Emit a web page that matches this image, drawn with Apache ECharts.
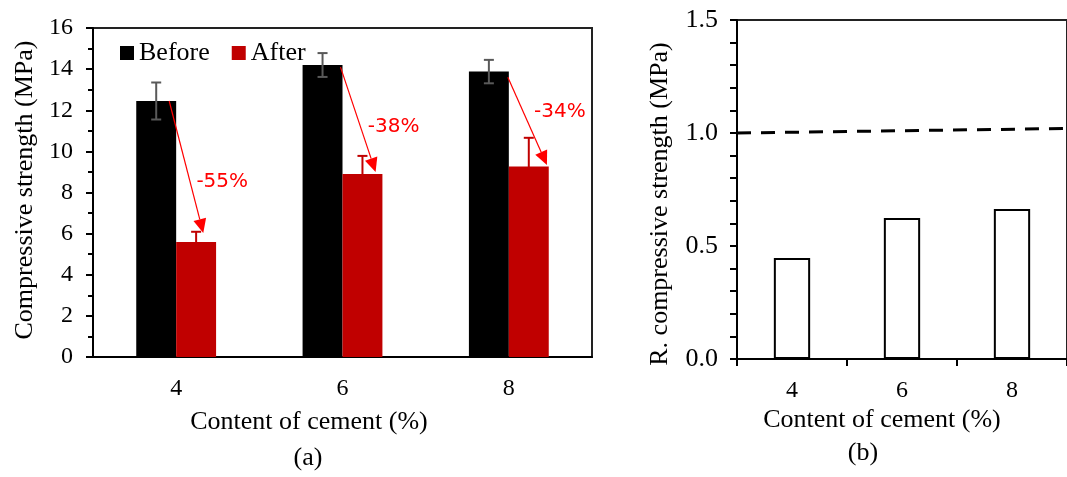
<!DOCTYPE html>
<html>
<head>
<meta charset="utf-8">
<script src="https://cdn.jsdelivr.net/npm/echarts@6/dist/echarts.min.js"></script>
<style>
html,body{margin:0;padding:0;background:#fff;}
#chart{width:1067px;height:477px;}
</style>
</head>
<body>
<div id="chart"></div>
<script>
// ---- data ----
const categories = ['4', '6', '8'];
const beforeVals = [12.45, 14.2, 13.88];
const afterVals = [5.59, 8.9, 9.26];
const beforeErr = [0.9, 0.58, 0.57];
const afterErr = [0.5, 0.88, 1.4];
const reductionLabels = ['-55%', '-38%', '-34%'];
const arrowFromVals = [12.45, 14.1, 13.6];
const arrowToVals = [6.03, 9.0, 9.34];
const ratioVals = [0.447, 0.624, 0.664];
const refLineVals = [1.0, 1.02];
const yTicksA = [0, 16, 2];
const yTicksB = [0, 1.5, 0.5];

// ---- styles ----
const SERIF = '"Liberation Serif", "Times New Roman", serif';
const SANS = '"DejaVu Sans", Verdana, sans-serif';
const BAR_FRAC = 0.24;
const annot = [
  { fromDx: -0.042, toDx: 0.163, labelDx: 0.277, labelV: 8.51 },
  { fromDx: -0.012, toDx: 0.199, labelDx: 0.307, labelV: 11.19 },
  { fromDx: -0.006, toDx: 0.229, labelDx: 0.307, labelV: 11.92 }
];

const chart = echarts.init(document.getElementById('chart'), null, { renderer: 'canvas' });

function errRender(sign, color) {
  return function (params, api) {
    const i = api.value(0), v = api.value(1), e = api.value(2);
    const bw = api.size([1, 0])[0];
    const x = api.coord([i, v])[0] + sign * bw * BAR_FRAC / 2;
    const yt = api.coord([i, v + e])[1];
    const yb = api.coord([i, v - e])[1];
    const cap = 5;
    const st = { stroke: color, lineWidth: 2 };
    return {
      type: 'group',
      children: [
        { type: 'line', shape: { x1: x, y1: yt, x2: x, y2: yb }, style: st },
        { type: 'line', shape: { x1: x - cap, y1: yt, x2: x + cap, y2: yt }, style: st },
        { type: 'line', shape: { x1: x - cap, y1: yb, x2: x + cap, y2: yb }, style: st }
      ]
    };
  };
}

function arrowRender(params, api) {
  const i = api.value(0);
  const a = annot[i];
  const bw = api.size([1, 0])[0];
  const c = api.coord([i, 0])[0];
  const x0 = c + a.fromDx * bw, y0 = api.coord([i, api.value(1)])[1];
  const x1 = c + a.toDx * bw, y1 = api.coord([i, api.value(2)])[1];
  const dx = x1 - x0, dy = y1 - y0, L = Math.sqrt(dx * dx + dy * dy);
  const ux = dx / L, uy = dy / L;
  const hl = 14, hw = 6.5;
  const bx = x1 - ux * hl, by = y1 - uy * hl;
  const lx = c + a.labelDx * bw, ly = api.coord([i, a.labelV])[1];
  return {
    type: 'group',
    children: [
      { type: 'line', shape: { x1: x0, y1: y0, x2: bx, y2: by }, style: { stroke: '#ff0000', lineWidth: 1.2 } },
      { type: 'polygon', shape: { points: [[x1, y1], [bx - uy * hw, by + ux * hw], [bx + uy * hw, by - ux * hw]] }, style: { fill: '#ff0000' } },
      { type: 'text', style: { text: reductionLabels[i], x: lx, y: ly, fill: '#ff0000', font: '20px ' + SANS, align: 'center', verticalAlign: 'middle' } }
    ]
  };
}

const axisLbl = { color: '#000', fontFamily: SERIF, fontSize: 24 };

const option = {
  animation: false,
  backgroundColor: '#fff',
  grid: [
    { left: 93, top: 28, width: 499, height: 329, show: true, borderColor: '#222', borderWidth: 2, containLabel: false },
    { left: 737, top: 20, width: 337.5, height: 339, show: true, borderColor: '#222', borderWidth: 2, containLabel: false }
  ],
  legend: {
    data: ['Before', 'After'],
    left: 115, top: 35,
    itemWidth: 14, itemHeight: 14, itemGap: 22,
    icon: 'rect',
    textStyle: { fontFamily: SERIF, fontSize: 26, color: '#000' }
  },
  xAxis: [
    {
      type: 'category', gridIndex: 0, data: categories,
      axisLine: { lineStyle: { color: '#000', width: 2 } },
      axisTick: { show: false },
      axisLabel: Object.assign({ margin: 20 }, axisLbl)
    },
    {
      type: 'category', gridIndex: 1, data: categories,
      axisLine: { lineStyle: { color: '#000', width: 2 } },
      axisTick: { show: true, inside: false, length: 7, lineStyle: { color: '#000', width: 2 } },
      axisLabel: Object.assign({ margin: 20 }, axisLbl)
    },
    { type: 'value', gridIndex: 1, min: 0, max: 3, show: false }
  ],
  yAxis: [
    {
      type: 'value', gridIndex: 0, min: yTicksA[0], max: yTicksA[1], interval: yTicksA[2],
      axisLine: { show: true, lineStyle: { color: '#000', width: 2 } },
      axisTick: { show: true, inside: false, length: 7, lineStyle: { color: '#000', width: 2 } },
      minorTick: { show: true, splitNumber: 2, length: 5, lineStyle: { color: '#000', width: 2 } },
      splitLine: { show: false },
      axisLabel: Object.assign({ margin: 20 }, axisLbl)
    },
    {
      type: 'value', gridIndex: 1, min: yTicksB[0], max: yTicksB[1], interval: yTicksB[2],
      axisLine: { show: true, lineStyle: { color: '#000', width: 2 } },
      axisTick: { show: true, inside: false, length: 7, lineStyle: { color: '#000', width: 2 } },
      minorTick: { show: true, splitNumber: 5, length: 7, lineStyle: { color: '#000', width: 2 } },
      splitLine: { show: false },
      axisLabel: Object.assign({ margin: 19, formatter: v => v.toFixed(1) }, axisLbl, { fontSize: 26 })
    }
  ],
  series: [
    { name: 'Before', type: 'bar', xAxisIndex: 0, yAxisIndex: 0, data: beforeVals, barWidth: (BAR_FRAC * 100) + '%', barGap: '0%', itemStyle: { color: '#000' } },
    { name: 'After', type: 'bar', xAxisIndex: 0, yAxisIndex: 0, data: afterVals, barWidth: (BAR_FRAC * 100) + '%', barGap: '0%', itemStyle: { color: '#c00000' } },
    { type: 'custom', xAxisIndex: 0, yAxisIndex: 0, z: 5, renderItem: errRender(-1, '#595959'),
      data: beforeVals.map((v, i) => [i, v, beforeErr[i]]) },
    { type: 'custom', xAxisIndex: 0, yAxisIndex: 0, z: 5, renderItem: errRender(1, '#c00000'),
      data: afterVals.map((v, i) => [i, v, afterErr[i]]) },
    { type: 'custom', xAxisIndex: 0, yAxisIndex: 0, z: 6, clip: false, renderItem: arrowRender,
      data: arrowFromVals.map((v, i) => [i, v, arrowToVals[i]]) },
    { type: 'bar', xAxisIndex: 1, yAxisIndex: 1, data: ratioVals, barWidth: '33%',
      itemStyle: { color: '#fff', borderColor: '#000', borderWidth: 2 } },
    { type: 'line', xAxisIndex: 2, yAxisIndex: 1, symbol: 'none', z: 4,
      data: [[0, refLineVals[0]], [3, refLineVals[1]]],
      lineStyle: { color: '#000', width: 3, type: [14, 10] } }
  ],
  graphic: [
    { type: 'text', x: 25, y: 190, rotation: Math.PI / 2, style: { text: 'Compressive strength (MPa)', font: '26px ' + SERIF, fill: '#000', align: 'center', verticalAlign: 'middle' } },
    { type: 'text', x: 660, y: 204, rotation: Math.PI / 2, style: { text: 'R. compressive strength (MPa)', font: '26px ' + SERIF, fill: '#000', align: 'center', verticalAlign: 'middle' } },
    { type: 'text', x: 309, y: 422, style: { text: 'Content of cement (%)', font: '26px ' + SERIF, fill: '#000', align: 'center', verticalAlign: 'middle' } },
    { type: 'text', x: 308, y: 458, style: { text: '(a)', font: '26px ' + SERIF, fill: '#000', align: 'center', verticalAlign: 'middle' } },
    { type: 'text', x: 882, y: 420, style: { text: 'Content of cement (%)', font: '26px ' + SERIF, fill: '#000', align: 'center', verticalAlign: 'middle' } },
    { type: 'text', x: 863, y: 453, style: { text: '(b)', font: '26px ' + SERIF, fill: '#000', align: 'center', verticalAlign: 'middle' } }
  ]
};
chart.setOption(option);
</script>
</body>
</html>
